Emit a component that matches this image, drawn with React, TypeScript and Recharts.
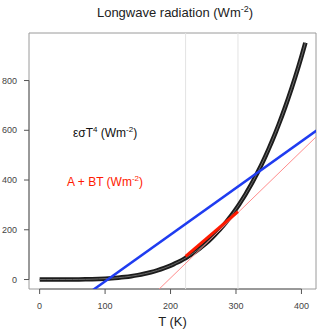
import {
  ComposedChart,
  Line,
  XAxis,
  YAxis,
  ReferenceLine,
  ReferenceArea,
  ReferenceDot,
} from 'recharts'

// emitted longwave (eps sigma T^4)
const tempK = [
  0, 10, 20, 30, 40, 50, 60, 70, 80, 90, 100, 110, 120, 130, 140, 150, 160, 170, 180, 190, 200,
  205, 210, 215, 220, 225, 230, 235, 240, 245, 250, 255, 260, 265, 270, 275, 280, 285, 290, 295,
  300, 305, 310, 315, 320, 325, 330, 335, 340, 345, 350, 355, 360, 365, 370, 375, 380, 385, 390,
  395, 400, 406,
]
const longwave = [
  0, 0, 0, 0, 0.1, 0.2, 0.5, 0.8, 1.4, 2.3, 3.5, 5.1, 7.3, 10, 13.4, 17.7, 22.9, 29.2, 36.7, 45.6, 56,
  61.8, 68.1, 74.8, 82, 89.7, 97.9, 106.7, 116.1, 126.1, 136.7, 148, 159.9, 172.6, 186, 200.2,
  215.1, 230.9, 247.5, 265.1, 283.5, 302.9, 323.2, 344.6, 367, 390.5, 415.1, 440.8, 467.7, 495.8,
  525.2, 555.9, 587.9, 621.2, 656, 692.1, 729.8, 769, 809.7, 852, 896, 952,
]

// A + BT lines (end points)
const blueT = [80, 423]
const blueV = [-45, 599]
const tangentT = [180, 423]
const tangentV = [-45, 575]
const fitT = [223, 303]
const fitV = [93, 273]

const rangeT = [223, 303]
const xTicks = [0, 100, 200, 300, 400]
const yTicks = [0, 200, 400, 600, 800]

const X_DOMAIN = [-16.24, 422.24]
const Y_DOMAIN = [-38.12, 991.12]

const toRows = (xs: number[], ys: number[]) => xs.map((T, i) => ({ T, v: ys[i] }))

const curveData = toRows(tempK, longwave)
const blueData = toRows(blueT, blueV)
const tangentData = toRows(tangentT, tangentV)
const fitData = toRows(fitT, fitV)

const FONT = '"Liberation Sans", Arial, sans-serif'

function AnnoLabel(props: any) {
  const { viewBox, fill, main, sup } = props
  const cx = viewBox.x + (viewBox.width || 0) / 2
  const cy = viewBox.y + (viewBox.height || 0) / 2
  return (
    <text x={cx} y={cy + 4} textAnchor='middle' fontSize={12} fontFamily={FONT} fill={fill}>
      <tspan>{main}</tspan>
      {sup ? (
        <tspan dy={-5} fontSize={8}>
          {sup}
        </tspan>
      ) : null}
      <tspan dy={sup ? 5 : 0}> (Wm</tspan>
      <tspan dy={-5} fontSize={8}>
        -2
      </tspan>
      <tspan dy={5}>)</tspan>
    </text>
  )
}

export default function App() {
  return (
    <div style={{ position: 'absolute', left: 0, top: 0, width: 320, height: 333, background: '#fff' }}>
      <div
        style={{
          position: 'absolute',
          left: 0,
          width: 350,
          top: 5,
          textAlign: 'center',
          fontFamily: FONT,
          fontSize: 13,
          color: '#222',
        }}
      >
        Longwave radiation (Wm<sup style={{ fontSize: 9, verticalAlign: 5, lineHeight: 0 }}>-2</sup>)
      </div>
      <div
        style={{
          position: 'absolute',
          left: 0,
          width: 345,
          top: 314,
          textAlign: 'center',
          fontFamily: FONT,
          fontSize: 13,
          color: '#222',
        }}
      >
        T (K)
      </div>
      <ComposedChart width={320} height={333} margin={{ top: 33, right: 4, bottom: 14, left: 0 }}>
        <XAxis
          type='number'
          dataKey='T'
          domain={X_DOMAIN}
          ticks={xTicks}
          allowDataOverflow
          axisLine={false}
          tickSize={5}
          tickMargin={9}
          height={30}
          stroke='#555'
          tick={{ fontSize: 9, fill: '#444', fontFamily: FONT }}
        />
        <YAxis
          type='number'
          dataKey='v'
          domain={Y_DOMAIN}
          ticks={yTicks}
          allowDataOverflow
          axisLine={false}
          tickSize={5}
          tickMargin={7}
          width={29}
          stroke='#555'
          tick={{ fontSize: 9, fill: '#444', fontFamily: FONT }}
        />
        {/* plot box */}
        <ReferenceArea
          x1={X_DOMAIN[0]}
          x2={X_DOMAIN[1]}
          y1={Y_DOMAIN[0]}
          y2={Y_DOMAIN[1]}
          fill='none'
          stroke='#9a9a9a'
          ifOverflow='visible'
        />
        {/* R style axis lines, first to last tick */}
        <ReferenceLine
          segment={[
            { x: X_DOMAIN[0], y: yTicks[0] },
            { x: X_DOMAIN[0], y: yTicks[yTicks.length - 1] },
          ]}
          stroke='#666'
          ifOverflow='visible'
        />
        <ReferenceLine
          segment={[
            { x: xTicks[0], y: Y_DOMAIN[0] },
            { x: xTicks[xTicks.length - 1], y: Y_DOMAIN[0] },
          ]}
          stroke='#666'
          ifOverflow='visible'
        />
        {rangeT.map((t) => (
          <ReferenceLine key={t} x={t} stroke='#e3e3e3' />
        ))}
        <Line
          data={curveData}
          dataKey='v'
          type='monotone'
          stroke='#1c1c1c'
          strokeWidth={4.5}
          dot={false}
          isAnimationActive={false}
        />
        <Line
          data={curveData}
          dataKey='v'
          type='monotone'
          stroke='#6a6a6a'
          strokeWidth={1}
          dot={false}
          isAnimationActive={false}
        />
        <Line
          data={blueData}
          dataKey='v'
          stroke='#1f3cf0'
          strokeWidth={2.5}
          dot={false}
          isAnimationActive={false}
        />
        <Line
          data={tangentData}
          dataKey='v'
          stroke='#ff8c8c'
          strokeWidth={1}
          dot={false}
          isAnimationActive={false}
        />
        <Line
          data={fitData}
          dataKey='v'
          stroke='#ff1a00'
          strokeWidth={3}
          dot={false}
          isAnimationActive={false}
        />
        <ReferenceDot
          x={100}
          y={590}
          r={0}
          label={<AnnoLabel fill='#111' main='εσT' sup='4' />}
        />
        <ReferenceDot
          x={100}
          y={393}
          r={0}
          label={<AnnoLabel fill='#ff1a00' main='A + BT' sup='' />}
        />
      </ComposedChart>
    </div>
  )
}
